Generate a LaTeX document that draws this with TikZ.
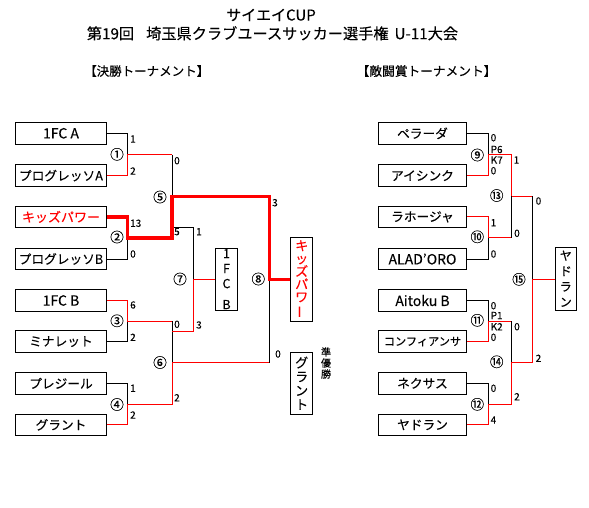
\documentclass[tikz,border=0pt]{standalone}
\usepackage{fontspec}
\setmainfont[FakeBold=0.2]{Noto Sans CJK JP}
\begin{document}
\begin{tikzpicture}[x=1pt,y=-1pt,
  box/.style={draw,line width=0.8pt,minimum width=90.4pt,minimum height=21.7pt,inner sep=0pt,font=\fontsize{12.7}{14}\selectfont},
  lat/.style={font=\fontsize{14}{16}\selectfont},
  rbox/.style={box,minimum width=88.4pt},
  vbox/.style={draw,line width=0.8pt,minimum width=21.8pt,inner sep=0pt,align=center},
  sc/.style={anchor=west,inner sep=0pt,font=\fontsize{10}{11}\selectfont},
  num/.style={inner sep=0pt,font=\fontsize{13.5}{14}\selectfont},
  win/.style={red,line width=0.9pt},
  lose/.style={black,line width=0.8pt},
  champ/.style={red,line width=3.3pt}]
\useasboundingbox (0,0) rectangle (589,507);
% titles
\node[inner sep=0pt,font=\fontsize{15}{17}\selectfont] (t1) at (271,15) {サイエイCUP};
\node[inner sep=0pt,font=\fontsize{15.2}{17}\selectfont] (t2) at (272.5,33.3) {第19回\hspace{12pt}埼玉県クラブユースサッカー選手権\hspace{6pt}U-11大会};
\node[anchor=west,inner sep=0pt,font=\fontsize{12.5}{14}\selectfont] (s1) at (84,71) {【決勝トーナメント】};
\node[anchor=west,inner sep=0pt,font=\fontsize{12.7}{14}\selectfont] (s2) at (356.5,71) {【敵闘賞トーナメント】};
% left boxes
\node[box,lat] (L1) at (61,133.3) {1FC A};
\node[box] (L2) at (61,175.6) {プログレッソA};
\node[box,text=red,font=\fontsize{13}{14}\selectfont] (L3) at (61,216.9) {キッズパワー};
\node[box] (L4) at (61,259) {プログレッソB};
\node[box,lat] (L5) at (61,300.5) {1FC B};
\node[box] (L6) at (61,341.6) {ミナレット};
\node[box] (L7) at (61,383.3) {プレジール};
\node[box] (L8) at (61,424.8) {グラント};
% right boxes
\node[rbox] (R1) at (422.5,133.3) {ペラーダ};
\node[rbox] (R2) at (422.5,175.6) {アイシンク};
\node[rbox] (R3) at (422.5,216.9) {ラホージャ};
\node[rbox,lat] (R4) at (422.5,259) {ALAD'ORO};
\node[rbox,lat] (R5) at (422.5,300.5) {Aitoku B};
\node[rbox,font=\fontsize{11.2}{13}\selectfont] (R6) at (422.5,341.6) {コンフィアンサ};
\node[rbox] (R7) at (422.5,383.3) {ネクサス};
\node[rbox] (R8) at (422.5,424.8) {ヤドラン};
% winner boxes
\node[vbox,minimum height=61.7pt,font=\fontsize{12.5}{15}\selectfont] (W7) at (226.5,279.2) {1\\F\\C\\[6pt]B};
\node[vbox,minimum height=83.3pt,text=red,font=\fontsize{13}{12.8}\selectfont] (W8) at (301.7,279.3) {キ\\ッ\\ズ\\パ\\ワ\\\rotatebox[origin=c]{90}{ー}};
\node[vbox,minimum height=62pt,font=\fontsize{13}{14}\selectfont] (RU) at (301.7,383.3) {グ\\ラ\\ン\\ト};
\node[inner sep=0pt,align=center,font=\fontsize{10}{11}\selectfont] (jun) at (326,363) {準\\優\\勝};
\node[vbox,minimum height=62.7pt,font=\fontsize{12}{15.5}\selectfont] (W15) at (565.8,278.7) {ヤ\\ド\\ラ\\ン};
% left coordinates
\coordinate (m1) at (127.5,154.5); \coordinate (t5a) at (172,154.5);
\coordinate (m2) at (127.5,237.9); \coordinate (t5b) at (172,237.9);
\coordinate (m5) at (172,196.2);   \coordinate (t8a) at (269.5,196.2);
\coordinate (m3) at (127.5,321.1); \coordinate (t6a) at (172,321.1);
\coordinate (m4) at (127.5,404);   \coordinate (t6b) at (172,404);
\coordinate (m6) at (172,362.5);   \coordinate (t8b) at (269.5,362.5);
\coordinate (m8) at (269.5,279.3);
\coordinate (s7a) at (172,227.5);  \coordinate (c7a) at (193.3,227.5);
\coordinate (s7b) at (172,331);    \coordinate (c7b) at (193.3,331);
\coordinate (m7) at (193.3,279.2);
% left lines
\draw[lose] (L1.east) -| (m1);
\draw[win] (L2.east) -| (m1) -- (t5a);
\draw[lose] (t5a) -- (m5);
\draw[lose] (L4.east) -| (m2);
\draw[lose] (L6.east) -| (m3);
\draw[win] (L5.east) -| (m3) -- (t6a);
\draw[lose] (t6a) -- (m6);
\draw[lose] (L7.east) -| (m4);
\draw[win] (L8.east) -| (m4) -- (t6b) -- (m6) -- (t8b);
\draw[lose] (t8b) -- (m8);
\draw[lose] (s7a) -- (c7a) -- (m7);
\draw[win] (s7b) -- (c7b) -- (m7) -- (W7.west |- m7);
\draw[champ] (L3.east) -| (m2) -- (t5b) -- (m5) -- (t8a) -- (m8) -- (W8.west |- m8);
% right coordinates
\coordinate (n9) at (488.5,154.5);  \coordinate (u13a) at (511,154.5);
\coordinate (n10) at (488.5,237.9); \coordinate (u13b) at (511,237.9);
\coordinate (n13) at (511,196.2);   \coordinate (u15a) at (532.7,196.2);
\coordinate (n11) at (488.5,321.1); \coordinate (u14a) at (511,321.1);
\coordinate (n12) at (488.5,404);   \coordinate (u14b) at (511,404);
\coordinate (n14) at (511,362.5);   \coordinate (u15b) at (532.7,362.5);
\coordinate (n15) at (532.7,279.3);
% right lines
\draw[lose] (R1.east) -| (n9);
\draw[win] (R2.east) -| (n9) -- (u13a) -- (n13) -- (u15a);
\draw[lose] (u15a) -- (n15);
\draw[win] (R3.east) -| (n10) -- (u13b);
\draw[lose] (R4.east) -| (n10);
\draw[lose] (u13b) -- (n13);
\draw[lose] (R5.east) -| (n11);
\draw[win] (R6.east) -| (n11) -- (u14a);
\draw[lose] (u14a) -- (n14);
\draw[lose] (R7.east) -| (n12);
\draw[win] (R8.east) -| (n12) -- (u14b) -- (n14) -- (u15b) -- (n15) -- (W15.west |- n15);
% match numbers
\node[num] (c1) at (117,154.3) {①};
\node[num] (c2) at (117,237) {②};
\node[num] (c3) at (117,320.8) {③};
\node[num] (c4) at (117,404.5) {④};
\node[num] (c5) at (160,197) {⑤};
\node[num] (c6) at (160,362.5) {⑥};
\node[num] (c7) at (180,279) {⑦};
\node[num] (c8) at (258.3,279) {⑧};
\node[num] (c9) at (477.3,155) {⑨};
\node[num] (c10) at (477.3,236.8) {⑩};
\node[num] (c11) at (477.3,320.3) {⑪};
\node[num] (c12) at (477.3,404.3) {⑫};
\node[num] (c13) at (496.7,195.5) {⑬};
\node[num] (c14) at (496.7,361.8) {⑭};
\node[num] (c15) at (519,279.3) {⑮};
% scores left
\node[sc] (a1) at (130,139) {1};
\node[sc] (a2) at (130,171) {2};
\node[sc] (a3) at (130,223.3) {13};
\node[sc] (a4) at (130,254) {0};
\node[sc] (a5) at (130,305) {6};
\node[sc] (a6) at (130,337.3) {2};
\node[sc] (a7) at (130,388.3) {1};
\node[sc] (a8) at (130,415) {2};
\node[sc] (a9) at (174,160.7) {0};
\node[sc] (a10) at (174,231.7) {5};
\node[sc] (a11) at (174,324.3) {0};
\node[sc] (a12) at (174,397.7) {2};
\node[sc] (a13) at (196,231.7) {1};
\node[sc] (a14) at (196,325) {3};
\node[sc] (a15) at (272,202.7) {3};
\node[sc] (a16) at (275,354) {0};
% scores right
\node[sc] (b1) at (490.5,137.7) {0};
\node[sc] (b2) at (490.5,149.5) {P6};
\node[sc] (b3) at (490.5,160) {K7};
\node[sc] (b4) at (490.5,170.7) {0};
\node[sc] (b5) at (490.5,222.7) {1};
\node[sc] (b6) at (490.5,254) {0};
\node[sc] (b7) at (490.5,305.7) {0};
\node[sc] (b8) at (490.5,315.5) {P1};
\node[sc] (b9) at (490.5,326.7) {K2};
\node[sc] (b10) at (490.5,337.3) {0};
\node[sc] (b11) at (490.5,388.3) {0};
\node[sc] (b12) at (490.5,420) {4};
\node[sc] (b13) at (513.5,160) {1};
\node[sc] (b14) at (514,233.3) {0};
\node[sc] (b15) at (514,326.7) {0};
\node[sc] (b16) at (514,396.7) {2};
\node[sc] (b17) at (535.5,201) {0};
\node[sc] (b18) at (535.5,358.3) {2};
\end{tikzpicture}
\end{document}
